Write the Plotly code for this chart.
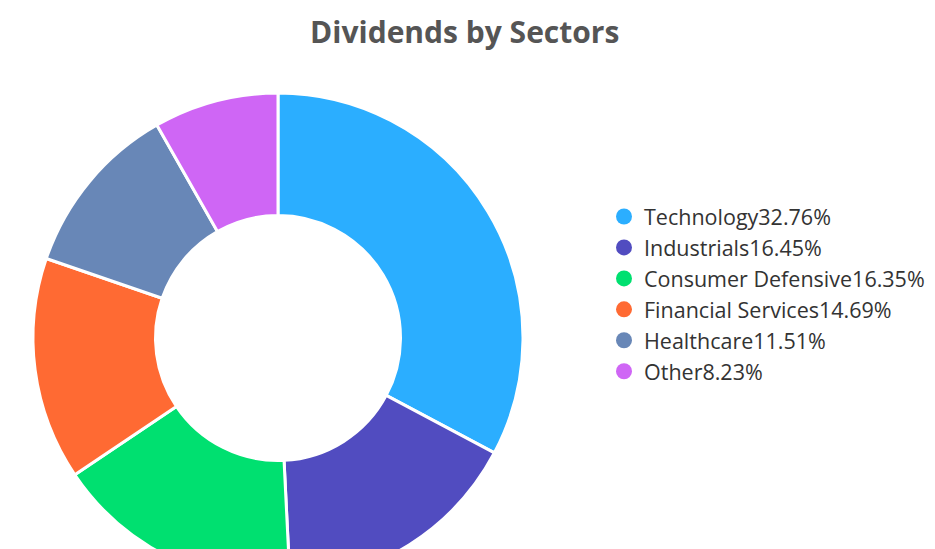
import plotly.graph_objects as go

sectors = ["Technology", "Industrials", "Consumer Defensive", "Financial Services", "Healthcare", "Other"]
shares = [32.76, 16.45, 16.35, 14.69, 11.51, 8.23]
colors = ["#2BAEFF", "#514CC0", "#00E070", "#FF6A33", "#6887B7", "#CF66F5"]

W, H = 935, 580
cx, cy, r = 270, 330, 245

fig = go.Figure()
fig.add_trace(go.Pie(
    labels=sectors, values=shares, sort=False, direction="clockwise", rotation=0,
    hole=0.5, textinfo="none", showlegend=False,
    marker=dict(colors=colors, line=dict(color="white", width=3)),
    domain=dict(x=[(cx - r) / W, (cx + r) / W], y=[(H - cy - r) / H, (H - cy + r) / H]),
))
for s, v, c in zip(sectors, shares, colors):
    fig.add_trace(go.Scatter(x=[None], y=[None], mode="markers", name=f"{s}{v:.2f}%",
                             marker=dict(symbol="circle", size=20, color=c)))

fig.update_layout(
    width=W, height=H, margin=dict(l=0, r=0, t=0, b=0),
    paper_bgcolor="white", plot_bgcolor="white",
    title=dict(text="Dividends by Sectors", x=0.4885, xanchor="center", y=1 - 24 / H, yanchor="middle",
               font=dict(family="Open Sans", size=30, color="#555555", weight=700)),
    xaxis=dict(visible=False), yaxis=dict(visible=False),
    legend=dict(x=596 / W, xanchor="left", y=1 - 188 / H, yanchor="top",
                font=dict(family="Open Sans", size=21.5, color="#333333"),
                bgcolor="rgba(0,0,0,0)", itemsizing="trace"),
    font=dict(family="Open Sans"),
)

fig.write_html("out.html", post_script="document.documentElement.style.overflow='hidden';document.body.style.overflow='hidden';")
